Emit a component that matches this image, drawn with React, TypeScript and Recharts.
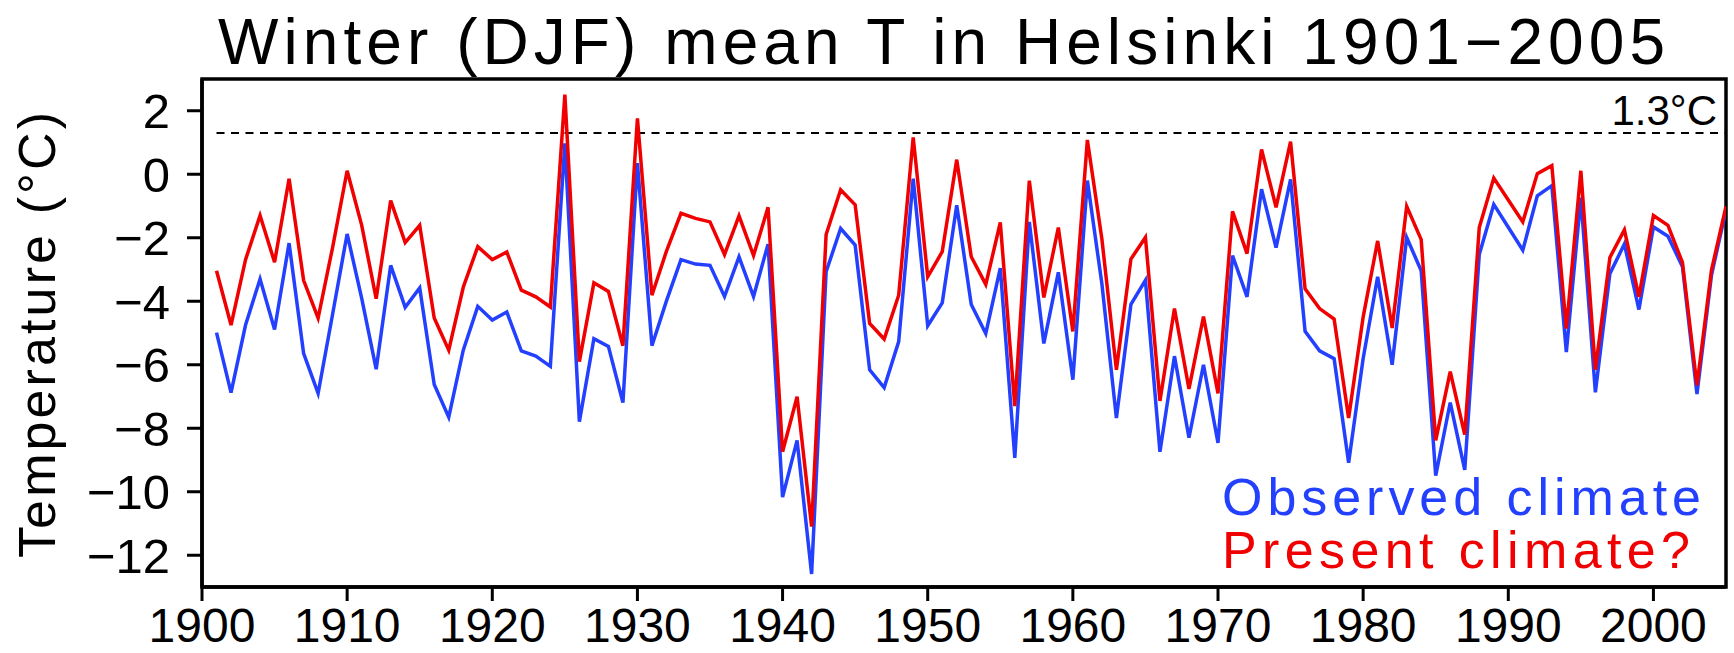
import React from "react"
import { LineChart, Line, XAxis, YAxis, ReferenceLine, ReferenceArea } from "recharts"

// winter (DJF) mean temperature, Helsinki, 1901..2005
const FIRST_YEAR = 1901

const observed = [
  -4.99, -6.88, -4.75, -3.30, -4.89, -2.17, -5.64, -6.90, -4.40, -1.88,
  -3.90, -6.14, -2.87, -4.19, -3.58, -6.62, -7.65, -5.54, -4.16, -4.59,
  -4.34, -5.56, -5.73, -6.05, 0.97, -7.79, -5.18, -5.42, -7.19, 0.35,
  -5.40, -3.99, -2.69, -2.83, -2.87, -3.85, -2.60, -3.85, -2.20, -10.17,
  -8.38, -12.59, -3.07, -1.71, -2.23, -6.16, -6.72, -5.27, -0.14, -4.77,
  -4.05, -0.98, -4.10, -5.02, -2.96, -8.93, -1.50, -5.33, -3.09, -6.47,
  -0.20, -3.45, -7.68, -4.10, -3.34, -8.74, -5.73, -8.30, -6.00, -8.46,
  -2.56, -3.86, -0.47, -2.31, -0.16, -4.95, -5.56, -5.81, -9.09, -5.80,
  -3.23, -6.00, -1.99, -3.04, -9.49, -7.19, -9.31, -2.53, -0.95, -1.67,
  -2.39, -0.68, -0.36, -5.60, -0.74, -6.87, -3.13, -2.20, -4.26, -1.66,
  -1.95, -2.91, -6.92, -3.18, -1.12,
]

const present = [
  -3.04, -4.75, -2.69, -1.30, -2.77, -0.14, -3.34, -4.53, -2.30, 0.11,
  -1.60, -3.92, -0.83, -2.15, -1.61, -4.53, -5.54, -3.56, -2.28, -2.69,
  -2.45, -3.65, -3.86, -4.18, 2.51, -5.90, -3.42, -3.69, -5.40, 1.76,
  -3.81, -2.42, -1.23, -1.39, -1.50, -2.53, -1.31, -2.56, -1.04, -8.74,
  -7.01, -11.10, -1.90, -0.49, -0.96, -4.70, -5.19, -3.81, 1.16, -3.23,
  -2.44, 0.46, -2.60, -3.47, -1.52, -7.30, -0.20, -3.88, -1.68, -4.95,
  1.08, -2.04, -6.16, -2.67, -1.99, -7.14, -4.23, -6.76, -4.48, -6.90,
  -1.17, -2.50, 0.78, -1.04, 1.03, -3.61, -4.23, -4.56, -7.68, -4.50,
  -2.10, -4.84, -1.01, -2.06, -8.38, -6.22, -8.20, -1.68, -0.12, -0.81,
  -1.50, 0.02, 0.27, -4.86, 0.11, -6.16, -2.62, -1.75, -3.86, -1.30,
  -1.61, -2.78, -6.65, -3.02, -1.01,
]

const xTicks = [1900, 1910, 1920, 1930, 1940, 1950, 1960, 1970, 1980, 1990, 2000]
const yTicks = [2, 0, -2, -4, -6, -8, -10, -12]
const threshold = 1.3

const data = observed.map((v, i) => ({ year: FIRST_YEAR + i, observed: v, present: present[i] }))

const FONT = "'Liberation Sans', Arial, sans-serif"
const BLUE = "#2440ff"
const RED = "#f00000"

const fmtY = (v: number) => (v < 0 ? "\u2212" + Math.abs(v) : String(v))

export default function App() {
  return (
    <div style={{ position: "absolute", left: 0, top: 0, width: 1734, height: 653, background: "#fff" }}>
      <LineChart width={1734} height={653} data={data} margin={{ top: 79, right: 8, bottom: 6, left: 72 }}>
        <XAxis
          dataKey="year"
          type="number"
          domain={[1900, 2005]}
          ticks={xTicks}
          interval={0}
          allowDataOverflow
          height={60}
          tickSize={14}
          tickMargin={7}
          axisLine={{ stroke: "#000", strokeWidth: 3.5 }}
          tickLine={{ stroke: "#000", strokeWidth: 3 }}
          tick={{ fontSize: 48, fill: "#000", fontFamily: FONT }}
        />
        <YAxis
          type="number"
          domain={[-13, 3]}
          ticks={yTicks}
          interval={0}
          allowDataOverflow
          width={130}
          tickSize={15}
          tickMargin={17}
          tickFormatter={fmtY}
          axisLine={{ stroke: "#000", strokeWidth: 3.5 }}
          tickLine={{ stroke: "#000", strokeWidth: 3 }}
          tick={{ fontSize: 49, fill: "#000", fontFamily: FONT }}
        />
        <ReferenceLine
          segment={[{ x: FIRST_YEAR, y: threshold }, { x: 2005, y: threshold }]}
          stroke="#000"
          strokeWidth={2}
          strokeDasharray="8 6.5"
        />
        <Line dataKey="observed" stroke={BLUE} strokeWidth={3.5} dot={false} isAnimationActive={false} />
        <Line dataKey="present" stroke={RED} strokeWidth={3.5} dot={false} isAnimationActive={false} />
        <ReferenceArea x1={1900} x2={2005} y1={-13} y2={3} fill="none" fillOpacity={0} stroke="#000" strokeWidth={3.5} />
      </LineChart>
      <svg
        width={1734}
        height={653}
        style={{ position: "absolute", left: 0, top: 0, pointerEvents: "none" }}
        fontFamily={FONT}
      >
        <text x={218} y={64} fontSize={64} textLength={1447} lengthAdjust="spacing" fill="#000">
          Winter (DJF) mean T in Helsinki 1901{"\u2212"}2005
        </text>
        <text
          x={55}
          y={335}
          fontSize={52}
          textAnchor="middle"
          textLength={446}
          lengthAdjust="spacing"
          transform="rotate(-90 55 335)"
          fill="#000"
        >
          Temperature ({"\u00B0"}C)
        </text>
        <text x={1717} y={125} fontSize={42} textAnchor="end" fill="#000">
          1.3{"\u00B0"}C
        </text>
        <text x={1222} y={515} fontSize={52} textLength={479} lengthAdjust="spacing" fill={BLUE}>
          Observed climate
        </text>
        <text x={1222} y={568} fontSize={52} textLength={468} lengthAdjust="spacing" fill={RED}>
          Present climate?
        </text>
      </svg>
    </div>
  )
}
